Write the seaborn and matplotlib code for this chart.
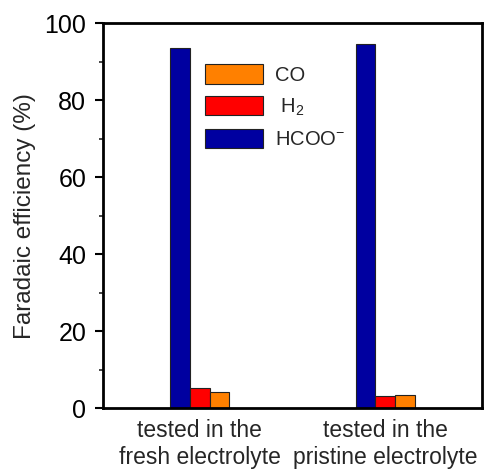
import matplotlib
matplotlib.use("Agg")
import matplotlib.pyplot as plt
from matplotlib.patches import Patch
from matplotlib.ticker import MultipleLocator
import seaborn as sns
import pandas as pd

# Faradaic efficiency per product for each electrolyte condition
conditions = ["tested in the\nfresh electrolyte", "tested in the\npristine electrolyte"]
products = ["HCOO$^{-}$", "H$_2$", "CO"]
fe_hcoo = [93.5, 94.7]
fe_h2 = [5.2, 3.1]
fe_co = [4.1, 3.4]
colors = {"HCOO$^{-}$": "#0000A0", "H$_2$": "#FF0000", "CO": "#FF8000"}

df = pd.DataFrame({
    "condition": conditions * 3,
    "product": [products[0]] * 2 + [products[1]] * 2 + [products[2]] * 2,
    "fe": fe_hcoo + fe_h2 + fe_co,
})

sns.set_style("ticks")
plt.rcParams["font.family"] = ["Liberation Sans", "DejaVu Sans"]
plt.rcParams["mathtext.fontset"] = "custom"
plt.rcParams["mathtext.rm"] = "Liberation Sans"
plt.rcParams["mathtext.it"] = "Liberation Sans:italic"

fig = plt.figure(figsize=(4.96, 4.74), dpi=100)
ax = fig.add_axes([0.2077, 0.1392, 0.764, 0.812])

sns.barplot(data=df, x="condition", y="fe", hue="product", hue_order=products,
            order=conditions, palette=colors, width=0.32, gap=0, saturation=1,
            edgecolor="#222222", linewidth=0.8, legend=False, ax=ax)

ax.set_xlim(-0.52, 1.52)
ax.set_ylim(0, 100)
ax.yaxis.set_major_locator(MultipleLocator(20))
ax.yaxis.set_minor_locator(MultipleLocator(10))
ax.set_xlabel("")
ax.set_ylabel("Faradaic efficiency (%)", fontsize=17.5, labelpad=6)
ax.tick_params(axis="y", which="major", direction="out", length=6, width=1.5,
               labelsize=18, pad=6, colors="black")
ax.tick_params(axis="y", which="minor", direction="out", length=3, width=1.2)
ax.tick_params(axis="x", length=0, labelsize=16.5, pad=8)
for s in ax.spines.values():
    s.set_visible(True)
    s.set_linewidth(2)
    s.set_color("black")

handles = [Patch(facecolor=colors[p], edgecolor="#222222", linewidth=0.8) for p in ["CO", "H$_2$", "HCOO$^{-}$"]]
ax.legend(handles, ["CO", " H$_2$", "HCOO$^{-}$"], loc="upper left",
          bbox_to_anchor=(0.22, 0.94), frameon=False, fontsize=14.5,
          handlelength=2.9, handleheight=1.1, labelspacing=0.55, handletextpad=0.6)

fig.savefig("out.png", dpi=100)
